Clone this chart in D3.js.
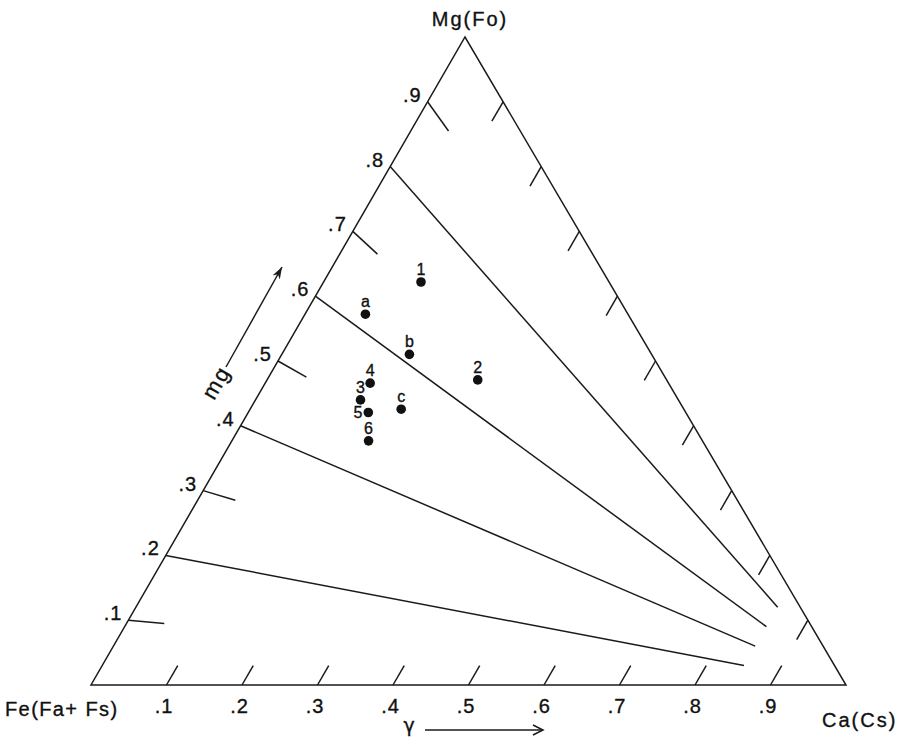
<!DOCTYPE html>
<html>
<head>
<meta charset="utf-8">
<script src="https://cdn.jsdelivr.net/npm/d3@7"></script>
<style>
  body { margin: 0; background: #fff; }
  text { font-family: "Liberation Sans", Arial, sans-serif; fill: #111; stroke: #111; stroke-width: 0.35px; }
</style>
</head>
<body>
<div id="svg-container"></div>
<script>
//==============================
// DATA
//==============================
// mg = Mg/(Mg+Fe) read along the left edge, gamma = Ca fraction read along the base
const pointNames = ["1", "a", "b", "2", "4", "3", "5", "c", "6"];
const pointMg = [0.714, 0.622, 0.614, 0.653, 0.541, 0.511, 0.500, 0.532, 0.460];
const pointGamma = [0.129, 0.080, 0.169, 0.279, 0.139, 0.139, 0.159, 0.200, 0.181];

// constant mg lines drawn toward Ca, and the short ones in between
const mgLines = [0.2, 0.4, 0.6, 0.8];
const mgTicks = [0.1, 0.3, 0.5, 0.7, 0.9];
const mgTickLabels = [".1", ".2", ".3", ".4", ".5", ".6", ".7", ".8", ".9"];

// gamma ticks on the base and on the Mg-Ca edge
const gammaTicks = [0.1, 0.2, 0.3, 0.4, 0.5, 0.6, 0.7, 0.8, 0.9];
const gammaTickLabels = [".1", ".2", ".3", ".4", ".5", ".6", ".7", ".8", ".9"];

// labels that sit left of their dot instead of above it
const leftLabels = ["5"];

//==============================
// DRAW TRIANGLE WITH D3
//==============================
const width = 897,
    height = 745,
    feX = 91,
    caX = 846,
    baseY = 685,
    apexX = 465,
    apexY = 37,
    lineEnd = 0.85,   // long mg lines stop short of Ca
    shortEnd = 0.05,  // short mg ticks
    edgeTick = 0.03;  // gamma ticks

const svg = d3.select("#svg-container").append("svg")
    .attr("width", width)
    .attr("height", height);

// Ca fraction along the base, Mg fraction up the height
const xScale = d3.scaleLinear().domain([0, 1]).range([feX, caX]);
const yScale = d3.scaleLinear().domain([0, 1]).range([baseY, apexY]);

// ternary position from Mg and Ca fractions
const project = (mgFrac, caFrac) => [xScale(caFrac) + (apexX - feX) * mgFrac, yScale(mgFrac)];
// position from the mg ratio and gamma
const fromMgGamma = (m, g) => project(m * (1 - g), g);

const line = d3.line();
const stroke = "#1a1a1a";

const drawSeg = (a, b) => {
    svg.append("path")
        .attr("d", line([a, b]))
        .attr("fill", "none")
        .attr("stroke", stroke)
        .attr("stroke-width", 1.5);
};

// outline
svg.append("path")
    .attr("d", line([project(0, 0), project(0, 1), project(1, 0)]) + "Z")
    .attr("fill", "none")
    .attr("stroke", stroke)
    .attr("stroke-width", 1.5)
    .attr("stroke-linejoin", "miter");

// mg lines and ticks
mgLines.forEach(m => drawSeg(fromMgGamma(m, 0), fromMgGamma(m, lineEnd)));
mgTicks.forEach(m => drawSeg(fromMgGamma(m, 0), fromMgGamma(m, shortEnd)));

// gamma ticks on base and right edge
gammaTicks.forEach(g => {
    drawSeg(project(0, g), project(edgeTick, g));
    drawSeg(project(1 - g, g), project(1 - g - edgeTick, g));
});

// left edge labels
mgTickLabels.forEach((t, i) => {
    const p = fromMgGamma((i + 1) / 10, 0);
    svg.append("text")
        .attr("x", p[0] - 6)
        .attr("y", p[1])
        .attr("text-anchor", "end")
        .style("font-size", "20px")
        .style("letter-spacing", "1px")
        .text(t);
});

// base labels
gammaTickLabels.forEach((t, i) => {
    const p = project(0, gammaTicks[i]);
    svg.append("text")
        .attr("x", p[0] - 2.5)
        .attr("y", p[1] + 28)
        .attr("text-anchor", "middle")
        .style("font-size", "20px")
        .style("letter-spacing", "1px")
        .text(t);
});

// corner labels
const corner = (txt, x, y, anchor, sp) => {
    svg.append("text")
        .attr("x", x)
        .attr("y", y)
        .attr("text-anchor", anchor)
        .style("font-size", "20px")
        .style("letter-spacing", sp + "px")
        .text(txt);
};
corner("Mg(Fo)", 470, 26, "middle", 2);
corner("Fe(Fa+ Fs)", 5, 716, "start", 1.4);
corner("Ca(Cs)", 822, 727, "start", 2);

// axis names with arrows
svg.append("defs").append("marker")
    .attr("id", "head")
    .attr("viewBox", "0 0 10 10")
    .attr("refX", 10)
    .attr("refY", 5)
    .attr("markerWidth", 12)
    .attr("markerHeight", 12)
    .attr("markerUnits", "userSpaceOnUse")
    .attr("orient", "auto")
    .append("path")
    .attr("d", "M0,1.5 L10,5 L0,8.5 L3,5 Z")
    .attr("fill", stroke);

svg.append("text")
    .attr("transform", "translate(214,401) rotate(-60)")
    .style("font-size", "22px")
    .style("letter-spacing", "2px")
    .text("mg");
svg.append("path")
    .attr("d", line([[226, 367], [282, 267]]))
    .attr("stroke", stroke)
    .attr("stroke-width", 1.5)
    .attr("marker-end", "url(#head)");

svg.append("text")
    .attr("x", 409)
    .attr("y", 732)
    .attr("text-anchor", "middle")
    .style("font-family", "'DejaVu Sans', sans-serif")
    .style("font-size", "19px")
    .text("γ");
svg.append("path")
    .attr("d", line([[425, 730], [543, 730]]))
    .attr("stroke", stroke)
    .attr("stroke-width", 1.5);
svg.append("path")
    .attr("d", line([[533, 725], [543, 730], [533, 735]]))
    .attr("fill", "none")
    .attr("stroke", stroke)
    .attr("stroke-width", 1.5);

// data points
pointNames.forEach((name, i) => {
    const p = fromMgGamma(pointMg[i], pointGamma[i]);
    svg.append("circle")
        .attr("cx", p[0])
        .attr("cy", p[1])
        .attr("r", 4.8)
        .attr("fill", "#111");
    const lbl = svg.append("text")
        .style("font-size", "16px")
        .text(name);
    if (leftLabels.includes(name)) {
        lbl.attr("x", p[0] - 6).attr("y", p[1] + 5.5).attr("text-anchor", "end");
    } else {
        lbl.attr("x", p[0]).attr("y", p[1] - 7).attr("text-anchor", "middle");
    }
});
</script>
</body>
</html>
